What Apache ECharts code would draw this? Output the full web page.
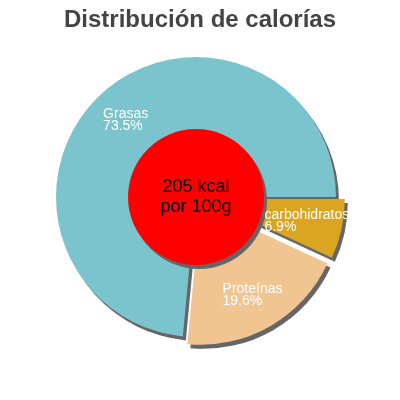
<!DOCTYPE html>
<html>
<head>
<meta charset="utf-8">
<script src="https://cdn.jsdelivr.net/npm/echarts@6/dist/echarts.min.js"></script>
<style>
  html, body { margin: 0; padding: 0; background: #fff; }
  #chart { width: 400px; height: 400px; }
</style>
</head>
<body>
<div id="chart"></div>
<script>
  const titleText = 'Distribución de calorías';
  const names = ['Grasas', 'Proteínas', 'carbohidratos'];
  const percents = [73.5, 19.6, 6.9];
  const colors = ['#7bc4cd', '#f0c592', '#daa520'];
  const exploded = [false, true, true];
  const kcal = 205;

  const center = [196, 197];
  const font = 'Liberation Sans, Arial, sans-serif';
  const shadow = { shadowColor: '#666', shadowBlur: 0, shadowOffsetX: 3, shadowOffsetY: 4 };

  const sliceData = names.map((n, i) => ({
    name: n,
    value: percents[i],
    selected: exploded[i],
    itemStyle: { color: colors[i] }
  }));

  const labelData = names.map((n, i) => ({
    name: n,
    value: percents[i],
    selected: exploded[i]
  }));

  const chart = echarts.init(document.getElementById('chart'));
  chart.setOption({
    animation: false,
    title: {
      text: titleText,
      left: 'center',
      top: 3,
      textStyle: { fontFamily: font, fontSize: 24, fontWeight: 'bold', color: '#444' }
    },
    series: [
      {
        // slices
        type: 'pie',
        center,
        radius: [0, 140],
        startAngle: 0,
        clockwise: false,
        selectedMode: 'multiple',
        selectedOffset: 9,
        silent: true,
        label: { show: false },
        labelLine: { show: false },
        emphasis: { disabled: true },
        itemStyle: Object.assign({ borderWidth: 0 }, shadow),
        data: sliceData,
        z: 1
      },
      {
        // center disc
        type: 'pie',
        center,
        radius: [0, 68],
        silent: true,
        emphasis: { disabled: true },
        itemStyle: Object.assign({ color: '#ff0000' }, shadow),
        label: {
          show: true,
          position: 'center',
          formatter: kcal + ' kcal\npor 100g',
          fontFamily: font,
          fontSize: 18,
          lineHeight: 20,
          color: '#000'
        },
        labelLine: { show: false },
        data: [{ name: 'kcal', value: kcal }],
        z: 2
      },
      {
        // slice labels
        type: 'pie',
        center,
        radius: [63, 140],
        startAngle: 0,
        clockwise: false,
        selectedMode: 'multiple',
        selectedOffset: 9,
        silent: true,
        emphasis: { disabled: true },
        itemStyle: { color: 'rgba(0,0,0,0)' },
        labelLine: { show: false },
        label: {
          show: true,
          position: 'inside',
          overflow: 'none',
          formatter: (p) => '{t|' + p.name + '}\n{t|' + p.value.toFixed(1) + '%}',
          rich: {
            t: {
              align: 'left',
              fontFamily: font,
              fontSize: 14,
              lineHeight: 12,
              color: '#fff'
            }
          }
        },
        data: labelData,
        z: 3
      }
    ]
  });
</script>
</body>
</html>
